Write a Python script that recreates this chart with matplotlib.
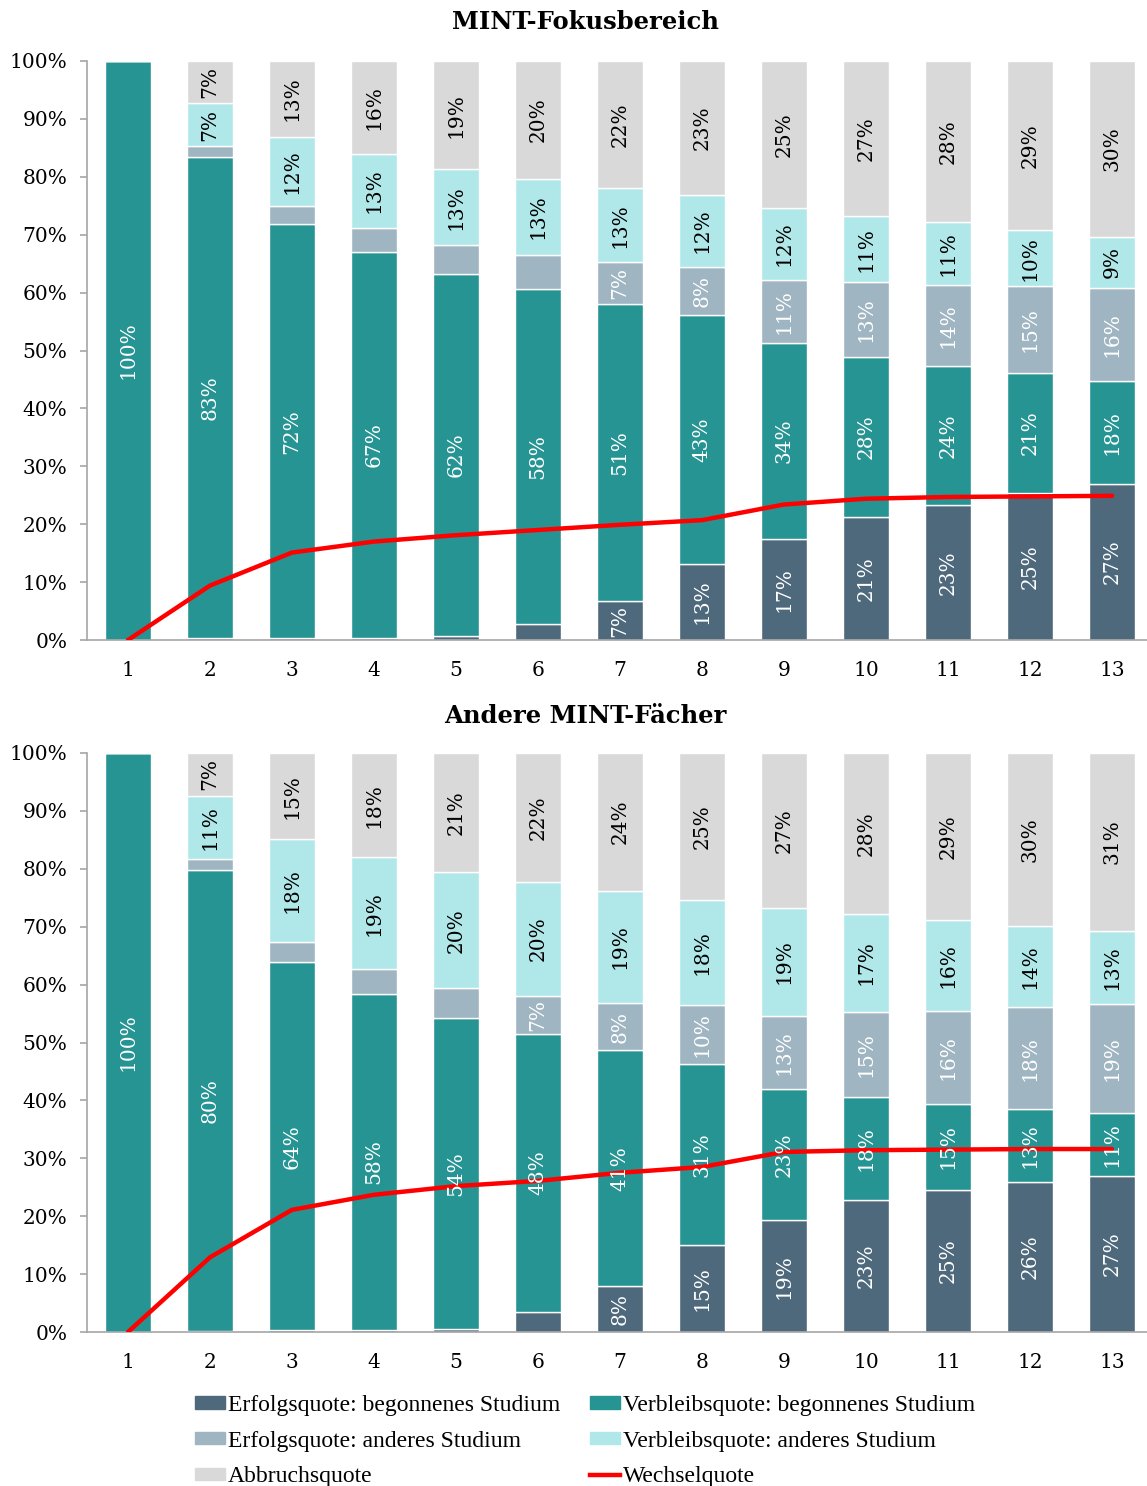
import matplotlib
matplotlib.use("Agg")
import matplotlib.pyplot as plt
from matplotlib.patches import Patch
from matplotlib.lines import Line2D
import numpy as np

plt.rcParams['font.family'] = ['DejaVu Serif']

categories = [str(i) for i in range(1, 14)]
yticklabels = ["0%", "10%", "20%", "30%", "40%", "50%", "60%", "70%", "80%", "90%", "100%"]

series_names = ["Erfolgsquote: begonnenes Studium", "Verbleibsquote: begonnenes Studium",
                "Erfolgsquote: anderes Studium", "Verbleibsquote: anderes Studium",
                "Abbruchsquote"]
line_name = "Wechselquote"

# Top chart: MINT-Fokusbereich
top_title = "MINT-Fokusbereich"
top_erfolg_beg = [0.0, 0.3, 0.3, 0.4, 0.7, 2.8, 6.7, 13.1, 17.4, 21.2, 23.3, 25.4, 26.9]
top_verbleib_beg = [100.0, 83.1, 71.5, 66.6, 62.5, 57.8, 51.4, 43.0, 33.9, 27.7, 24.0, 20.7, 17.8]
top_erfolg_and = [0.0, 1.9, 3.2, 4.2, 5.0, 5.9, 7.1, 8.4, 10.9, 12.9, 14.0, 15.0, 16.1]
top_verbleib_and = [0.0, 7.4, 11.9, 12.7, 13.1, 13.1, 12.8, 12.3, 12.4, 11.4, 10.9, 9.7, 8.8]
top_abbruch = [0.0, 7.3, 13.1, 16.1, 18.7, 20.4, 22.0, 23.2, 25.4, 26.8, 27.8, 29.2, 30.4]
top_wechsel = [0.0, 9.4, 15.1, 17.0, 18.1, 19.0, 19.9, 20.7, 23.4, 24.4, 24.7, 24.8, 24.9]

# Bottom chart: Andere MINT-Fächer
bot_title = "Andere MINT-Fächer"
bot_erfolg_beg = [0.0, 0.2, 0.3, 0.4, 0.6, 3.5, 7.9, 15.0, 19.3, 22.8, 24.6, 25.9, 26.9]
bot_verbleib_beg = [100.0, 79.6, 63.6, 58.0, 53.6, 48.0, 40.8, 31.3, 22.7, 17.8, 14.8, 12.6, 10.9]
bot_erfolg_and = [0.0, 1.9, 3.5, 4.3, 5.2, 6.6, 8.1, 10.1, 12.6, 14.7, 16.0, 17.6, 18.8]
bot_verbleib_and = [0.0, 10.9, 17.7, 19.3, 20.0, 19.6, 19.4, 18.2, 18.6, 16.9, 15.8, 14.0, 12.7]
bot_abbruch = [0.0, 7.4, 14.9, 18.0, 20.6, 22.3, 23.8, 25.4, 26.8, 27.8, 28.8, 29.9, 30.7]
bot_wechsel = [0.0, 12.9, 21.1, 23.7, 25.2, 26.1, 27.5, 28.5, 31.1, 31.4, 31.5, 31.6, 31.6]

colors = ["#4E697C", "#279494", "#A0B5C2", "#B0E8EA", "#D9D9D9"]
text_colors = ["white", "white", "white", "black", "black"]
line_color = "#FF0000"

W, H = 1147, 1486
fig = plt.figure(figsize=(W / 100, H / 100), dpi=100)

def px_axes(left, top, right, bottom):
    return fig.add_axes([left / W, 1 - bottom / H, (right - left) / W, (bottom - top) / H])

def draw(ax, data, wechsel, title, title_y):
    x = np.arange(1, 14)
    bottom = np.zeros(13)
    for k, vals in enumerate(data):
        vals = np.array(vals)
        ax.bar(x, vals, width=0.56, bottom=bottom, color=colors[k],
               edgecolor="white", linewidth=1.0, zorder=2)
        for i in range(13):
            if round(vals[i]) >= 7:
                ax.text(x[i], bottom[i] + vals[i] / 2, f"{round(vals[i]):d}%",
                        rotation=90, ha="center", va="center", fontsize=14.5,
                        color=text_colors[k], zorder=5)
        bottom = bottom + vals
    ax.plot(x, wechsel, color=line_color, lw=3.2, zorder=4, solid_capstyle="round")
    ax.set_xlim(0.5, 13.5 - 6 / 82)
    ax.set_ylim(0, 100)
    ax.set_yticks(np.arange(0, 101, 10))
    ax.set_yticklabels(yticklabels)
    ax.set_xticks(x)
    ax.set_xticklabels(categories)
    for s in ["top", "right"]:
        ax.spines[s].set_visible(False)
    for s in ["left", "bottom"]:
        ax.spines[s].set_color("#A6A6A6")
        ax.spines[s].set_linewidth(1.2)
    ax.tick_params(axis="y", length=5, width=1.2, color="#A6A6A6", pad=9, labelsize=14.5)
    ax.tick_params(axis="x", length=0, pad=15, labelsize=14.5)
    fig.text(585 / W, 1 - title_y / H, title, ha="center", va="center",
             fontsize=17.5, fontweight="bold")

ax1 = px_axes(87, 61, 1147, 640)
draw(ax1, [top_erfolg_beg, top_verbleib_beg, top_erfolg_and, top_verbleib_and, top_abbruch],
     top_wechsel, top_title, 22)
ax2 = px_axes(87, 753, 1147, 1332)
draw(ax2, [bot_erfolg_beg, bot_verbleib_beg, bot_erfolg_and, bot_verbleib_and, bot_abbruch],
     bot_wechsel, bot_title, 716)

handles = [Patch(color=colors[0], label=series_names[0]),
           Patch(color=colors[2], label=series_names[2]),
           Patch(color=colors[4], label=series_names[4]),
           Patch(color=colors[1], label=series_names[1]),
           Patch(color=colors[3], label=series_names[3]),
           Line2D([0], [0], color=line_color, lw=3.2, label=line_name)]
fig.legend(handles=handles, ncol=2, loc="upper left",
           bbox_to_anchor=(195 / W, 1 - 1395 / H), frameon=False, borderpad=0,
           borderaxespad=0, handlelength=1.27, handleheight=0.42,
           handletextpad=0.13, columnspacing=1.25, labelspacing=0.62,
           prop={"family": "Liberation Serif", "size": 17})

fig.savefig("out.png", dpi=100)
